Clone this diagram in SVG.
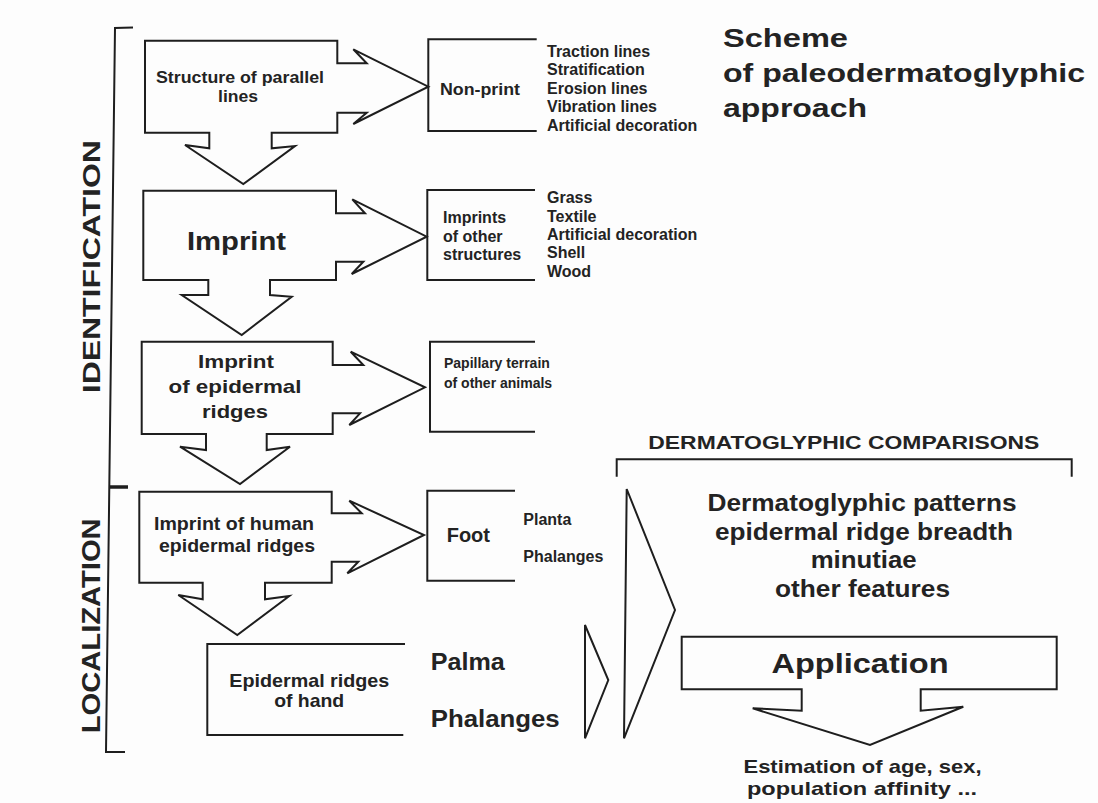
<svg xmlns="http://www.w3.org/2000/svg" width="1098" height="803" viewBox="0 0 1098 803">
<style>
.ln{fill:none;stroke:#1e1e1e;stroke-width:2;stroke-linejoin:miter}
.sh{fill:#fdfdfd;stroke:#1e1e1e;stroke-width:2;stroke-linejoin:miter}
text{font-family:"Liberation Sans",Arial,sans-serif;font-weight:bold;fill:#232323}
.c{text-anchor:middle}
</style>
<rect width="1098" height="803" fill="#fdfdfd"/>
<g id="title">
<text x="723" y="47" font-size="26" textLength="125" lengthAdjust="spacingAndGlyphs">Scheme</text>
<text x="723" y="82" font-size="26" textLength="362" lengthAdjust="spacingAndGlyphs">of paleodermatoglyphic</text>
<text x="723" y="117" font-size="26" textLength="144" lengthAdjust="spacingAndGlyphs">approach</text>
</g>
<g id="bracket-left">
<polyline class="ln" points="133,27.5 115,28 106,752 125,752"/>
<line x1="109" y1="487" x2="128" y2="487" stroke="#1e1e1e" stroke-width="3.5"/>
<text class="c" x="100" y="266.7" font-size="23.5" textLength="253" lengthAdjust="spacingAndGlyphs" transform="rotate(-90 100 266.7)">IDENTIFICATION</text>
<text class="c" x="100" y="625.8" font-size="25" textLength="215" lengthAdjust="spacingAndGlyphs" transform="rotate(-90 100 625.8)">LOCALIZATION</text>
</g>
<g id="connectors">
<polygon class="ln" points="626.7,489 675,610 624,738.3"/>
<polygon class="ln" points="585,625 608.3,680 585,738.3"/>
<polyline class="ln" points="616.7,476.7 616.7,459.3 1071.7,459.3 1071.7,476.7"/>
</g>
<g id="n-structure">
<polygon class="sh" points="145,40.7 337.3,40.7 337.3,63.3 366.7,63.3 353.3,49.3 428.3,86.7 353.3,124 366.7,112.7 337.3,112.7 337.3,132.7 271.7,132.7 271.7,148.3 295,146 243.3,184 185,145 209.3,148.3 209.3,132.7 145,132.7"/>
<text class="c" x="240" y="83" font-size="16" textLength="168" lengthAdjust="spacingAndGlyphs">Structure of parallel</text>
<text class="c" x="238" y="102" font-size="16" textLength="40" lengthAdjust="spacingAndGlyphs">lines</text>
</g>
<g id="n-nonprint">
<polyline class="ln" points="536.7,39.3 428.3,39.3 428.3,131 536.7,131"/>
<text x="440" y="95" font-size="16" textLength="80" lengthAdjust="spacingAndGlyphs">Non-print</text>
<g font-size="16">
<text x="547" y="56.7">Traction lines</text>
<text x="547" y="75">Stratification</text>
<text x="547" y="94">Erosion lines</text>
<text x="547" y="112.3">Vibration lines</text>
<text x="547" y="131">Artificial decoration</text>
</g>
</g>
<g id="n-imprint">
<polygon class="sh" points="143.3,190.7 336,190.7 336,213.3 365,213.3 352.3,199.3 426.7,236.7 351.7,274 363.3,261.7 336,261.7 336,280 270,280 270,295 291.7,296.7 241.7,335 181.7,295 208.3,295 208.3,280 143.3,280"/>
<text class="c" x="236.5" y="250" font-size="25" textLength="99" lengthAdjust="spacingAndGlyphs">Imprint</text>
</g>
<g id="n-other">
<polyline class="ln" points="535,190 427.3,190 427.3,280 535,280"/>
<g font-size="16">
<text x="443" y="223.3">Imprints</text>
<text x="443" y="241.7">of other</text>
<text x="443" y="260">structures</text>
</g>
<g font-size="16">
<text x="547" y="203.3">Grass</text>
<text x="547" y="221.7">Textile</text>
<text x="547" y="240">Artificial decoration</text>
<text x="547" y="258.3">Shell</text>
<text x="547" y="276.7">Wood</text>
</g>
</g>
<g id="n-epidermal">
<polygon class="sh" points="141.7,341.7 332.7,341.7 332.7,365 363.3,365 350.7,351.7 425,387.3 349.3,425 360,413.3 332.7,413.3 332.7,434 266.7,434 266.7,450 290,446.7 240,484 180,446.7 206,450 206,434 141.7,434"/>
<text class="c" x="236" y="368.3" font-size="19" textLength="76" lengthAdjust="spacingAndGlyphs">Imprint</text>
<text class="c" x="235" y="393.3" font-size="19" textLength="133" lengthAdjust="spacingAndGlyphs">of epidermal</text>
<text class="c" x="235" y="418.3" font-size="19" textLength="66" lengthAdjust="spacingAndGlyphs">ridges</text>
</g>
<g id="n-papillary">
<polyline class="ln" points="535,341.7 430,341.7 430,431.7 535,431.7"/>
<text x="444" y="368" font-size="14">Papillary terrain</text>
<text x="444" y="388" font-size="14">of other animals</text>
</g>
<g id="n-human">
<polygon class="sh" points="139.3,491.7 331.7,491.7 331.7,513.3 361.7,513.3 349.3,500.7 424,535 347.3,573.3 358.3,561.7 331.7,561.7 331.7,582.7 265,582.7 265,599.3 289.3,596 237.3,635 178.3,595 202.7,599.3 202.7,582.7 139.3,582.7"/>
<text class="c" x="234" y="530" font-size="18.5" textLength="160" lengthAdjust="spacingAndGlyphs">Imprint of human</text>
<text class="c" x="237" y="551.7" font-size="18.5" textLength="156" lengthAdjust="spacingAndGlyphs">epidermal ridges</text>
</g>
<g id="n-foot">
<polyline class="ln" points="515,490.7 427.3,490.7 427.3,580.7 515,580.7"/>
<text x="446.7" y="541.7" font-size="20">Foot</text>
<text x="523.3" y="525" font-size="16">Planta</text>
<text x="523.3" y="561.7" font-size="16">Phalanges</text>
</g>
<g id="n-hand">
<polyline class="ln" points="405,644 207.3,644 207.3,735 403.3,735"/>
<text class="c" x="309.3" y="686.7" font-size="18.5" textLength="160" lengthAdjust="spacingAndGlyphs">Epidermal ridges</text>
<text class="c" x="309.2" y="707.3" font-size="18.5" textLength="70" lengthAdjust="spacingAndGlyphs">of hand</text>
<text x="430.7" y="670" font-size="23" textLength="74" lengthAdjust="spacingAndGlyphs">Palma</text>
<text x="430.7" y="727.3" font-size="23" textLength="129" lengthAdjust="spacingAndGlyphs">Phalanges</text>
</g>
<g id="n-comparisons">
<text class="c" x="843.8" y="449.3" font-size="19" textLength="391" lengthAdjust="spacingAndGlyphs">DERMATOGLYPHIC COMPARISONS</text>
<text class="c" x="862" y="510.7" font-size="23" textLength="309" lengthAdjust="spacingAndGlyphs">Dermatoglyphic patterns</text>
<text class="c" x="864" y="540" font-size="23" textLength="298" lengthAdjust="spacingAndGlyphs">epidermal ridge breadth</text>
<text class="c" x="863.7" y="568.3" font-size="23" textLength="106" lengthAdjust="spacingAndGlyphs">minutiae</text>
<text class="c" x="862.5" y="596.7" font-size="23" textLength="175" lengthAdjust="spacingAndGlyphs">other features</text>
</g>
<g id="n-application">
<polygon class="sh" points="681.7,636.7 1056.7,636.7 1056.7,689.3 920.7,689.3 920.7,710.7 963.3,706.7 870,745 752.7,708.3 801.7,710.7 801.7,689.3 681.7,689.3"/>
<text class="c" x="860" y="672.7" font-size="28" textLength="177" lengthAdjust="spacingAndGlyphs">Application</text>
</g>
<g id="n-estimation">
<text class="c" x="862.5" y="772.7" font-size="18.5" textLength="238" lengthAdjust="spacingAndGlyphs">Estimation of age, sex,</text>
<text class="c" x="862" y="795" font-size="18.5" textLength="230" lengthAdjust="spacingAndGlyphs">population affinity ...</text>
</g>
</svg>
